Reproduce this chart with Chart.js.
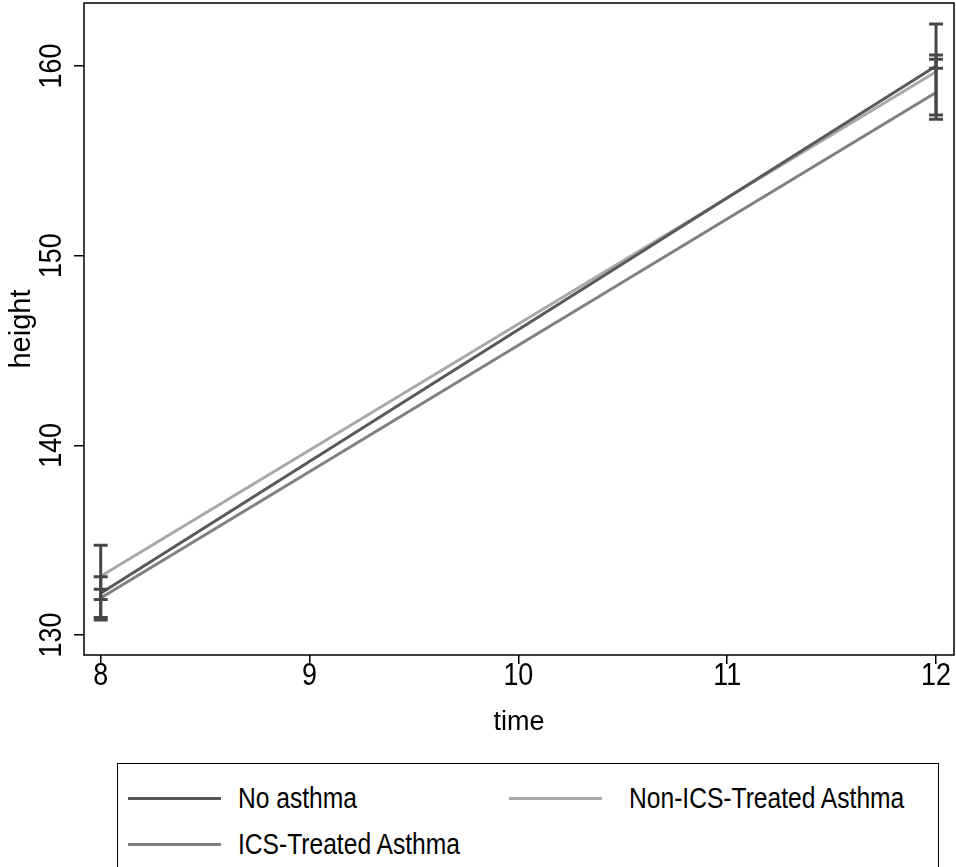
<!DOCTYPE html>
<html lang="en">
<head>
<meta charset="UTF-8">
<title>Height by time</title>
<script src="https://cdn.jsdelivr.net/npm/chart.js"></script>
<style>
    body { margin: 0; background: #fff; }
    #wrap { position: absolute; left: 0; top: 0; width: 956px; height: 750px; }
    #legend {
        position: absolute; left: 117px; top: 763px; width: 822px; height: 130px;
        border: 1px solid #000; box-sizing: border-box;
        font-family: "Liberation Sans", Arial, sans-serif;
        font-size: 30px; color: #000;
    }
    .item { position: absolute; height: 40px; }
    .swatch { position: absolute; left: 0; top: 19px; width: 93px; height: 3px; }
    .lbl { position: absolute; top: 3px; white-space: nowrap; line-height: 34px;
           transform: scaleX(0.82); transform-origin: left center; }
</style>
</head>
<body>
<div id="wrap"><canvas id="chart"></canvas></div>
<div id="legend"></div>

<script>
    // data
    const times = [8, 12];
    const xTicks = [8, 9, 10, 11, 12];
    const yTicks = [130, 140, 150, 160];

    const seriesNames = ['No asthma', 'Non-ICS-Treated Asthma', 'ICS-Treated Asthma'];
    const seriesColors = ['#595959', '#a9a9a9', '#808080'];

    const noAsthma = [132.2, 160.0];
    const nonIcs = [133.1, 159.7];
    const ics = [131.95, 158.6];

    // error bar ends (low / high) at each time
    const noAsthmaLo = [131.88, 159.88];
    const noAsthmaHi = [132.41, 160.35];
    const nonIcsLo = [130.79, 157.19];
    const nonIcsHi = [134.74, 162.21];
    const icsLo = [130.93, 157.42];
    const icsHi = [133.07, 160.58];

    const means = [noAsthma, nonIcs, ics];
    const lows = [noAsthmaLo, nonIcsLo, icsLo];
    const highs = [noAsthmaHi, nonIcsHi, icsHi];

    const family = '"Liberation Sans", Arial, sans-serif';

    const datasets = seriesNames.map((name, i) => ({
        label: name,
        data: times.map((t, j) => ({ x: t, y: means[i][j] })),
        borderColor: seriesColors[i],
        borderWidth: 3,
        pointRadius: 0,
        fill: false,
        tension: 0
    }));

    const errorBars = {
        id: 'errorBars',
        afterDatasetsDraw(chart) {
            const { ctx, scales: { x, y } } = chart;
            ctx.save();
            ctx.strokeStyle = '#474747';
            ctx.lineWidth = 3;
            for (let i = 0; i < means.length; i++) {
                times.forEach((t, j) => {
                    const px = x.getPixelForValue(t);
                    const lo = y.getPixelForValue(lows[i][j]);
                    const hi = y.getPixelForValue(highs[i][j]);
                    ctx.beginPath();
                    ctx.moveTo(px, lo); ctx.lineTo(px, hi);
                    ctx.moveTo(px - 7, lo); ctx.lineTo(px + 7, lo);
                    ctx.moveTo(px - 7, hi); ctx.lineTo(px + 7, hi);
                    ctx.stroke();
                });
            }
            ctx.restore();
        }
    };

    // box round the plot + narrow tick labels (the original uses a condensed face)
    const plotBox = {
        id: 'plotBox',
        afterDraw(chart) {
            const { ctx, chartArea: a, scales: { x, y } } = chart;
            ctx.save();
            ctx.strokeStyle = '#000';
            ctx.lineWidth = 1.5;
            ctx.strokeRect(a.left, a.top, a.right - a.left, a.bottom - a.top);

            ctx.fillStyle = '#000';
            ctx.font = '32px ' + family;
            ctx.textAlign = 'center';
            ctx.textBaseline = 'middle';
            xTicks.forEach(v => {
                ctx.save();
                ctx.translate(x.getPixelForValue(v), a.bottom + 21);
                ctx.scale(0.84, 1);
                ctx.fillText(String(v), 0, 0);
                ctx.restore();
            });
            yTicks.forEach(v => {
                ctx.save();
                ctx.translate(a.left - 32, y.getPixelForValue(v));
                ctx.rotate(-Math.PI / 2);
                ctx.scale(0.84, 1);
                ctx.fillText(String(v), 0, 0);
                ctx.restore();
            });
            ctx.restore();
        }
    };

    new Chart(document.getElementById('chart'), {
        type: 'line',
        data: { datasets },
        options: {
            responsive: true,
            maintainAspectRatio: false,
            animation: false,
            layout: { padding: { top: 3, right: 2, left: 0, bottom: 0 } },
            plugins: { legend: { display: false }, tooltip: { enabled: false } },
            scales: {
                x: {
                    type: 'linear',
                    min: 7.92,
                    max: 12.086,
                    afterBuildTicks: s => { s.ticks = xTicks.map(v => ({ value: v })); },
                    afterFit: s => { s.height = 95; },
                    grid: { drawOnChartArea: false, tickLength: 9, color: '#000', lineWidth: 1.5 },
                    border: { display: false },
                    ticks: { display: false },
                    title: { display: true, text: 'time', font: { family, size: 27 }, color: '#000', padding: { top: 0, bottom: 11 } }
                },
                y: {
                    type: 'linear',
                    min: 128.95,
                    max: 163.32,
                    afterBuildTicks: s => { s.ticks = yTicks.map(v => ({ value: v })); },
                    afterFit: s => { s.width = 84; },
                    grid: { drawOnChartArea: false, tickLength: 10, color: '#000', lineWidth: 1.5 },
                    border: { display: false },
                    ticks: { display: false },
                    title: { display: true, text: 'height', font: { family, size: 29 }, color: '#000', padding: { top: 5, bottom: 0 } }
                }
            }
        },
        plugins: [errorBars, plotBox]
    });

    // legend in two columns, built from the series arrays
    const legendPos = [[10, 14], [391, 14], [10, 60]];
    const legendEl = document.getElementById('legend');
    seriesNames.forEach((name, i) => {
        const item = document.createElement('div');
        item.className = 'item';
        item.style.left = legendPos[i][0] + 'px';
        item.style.top = legendPos[i][1] + 'px';
        const sw = document.createElement('div');
        sw.className = 'swatch';
        sw.style.background = seriesColors[i];
        const lbl = document.createElement('div');
        lbl.className = 'lbl';
        lbl.style.left = (i === 1 ? 120 : 110) + 'px';
        lbl.textContent = name;
        item.appendChild(sw);
        item.appendChild(lbl);
        legendEl.appendChild(item);
    });
</script>
</body>
</html>
